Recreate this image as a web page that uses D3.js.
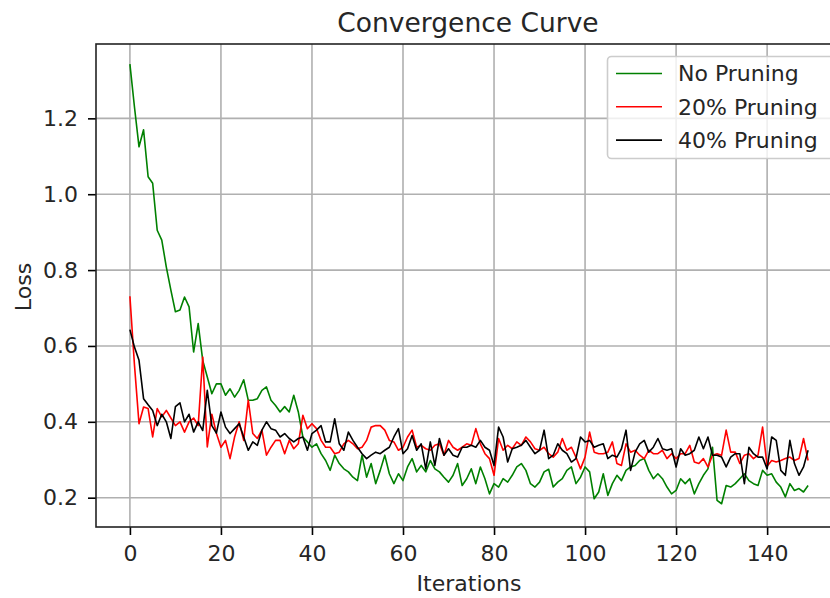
<!DOCTYPE html>
<html>
<head>
<meta charset="utf-8">
<script src="https://cdn.jsdelivr.net/npm/d3@7"></script>
<style>
  html, body { margin: 0; padding: 0; background: #fff; }
  svg { display: block; font-family: "DejaVu Sans", sans-serif; }
</style>
</head>
<body>
<svg id="chart" width="830" height="598"></svg>
<script>
// Loss per iteration for each pruning setting
const iterations = d3.range(150);

const noPruning = [
  1.343, 1.23, 1.125, 1.17, 1.046, 1.029, 0.905, 0.879, 0.808, 0.747,
  0.69, 0.695, 0.729, 0.703, 0.584, 0.659, 0.562, 0.518, 0.474, 0.50,
  0.50, 0.47, 0.487, 0.465, 0.483, 0.511, 0.457, 0.457, 0.461, 0.483,
  0.492, 0.457, 0.443, 0.426, 0.44, 0.426, 0.47, 0.426, 0.36, 0.347,
  0.333, 0.342, 0.316, 0.298, 0.272, 0.312, 0.29, 0.276, 0.268, 0.254,
  0.245, 0.312, 0.254, 0.29, 0.237, 0.272, 0.312, 0.263, 0.237, 0.263,
  0.245, 0.281, 0.303, 0.268, 0.285, 0.268, 0.298, 0.276, 0.268, 0.254,
  0.241, 0.259, 0.29, 0.232, 0.25, 0.276, 0.237, 0.281, 0.25, 0.21,
  0.237, 0.228, 0.25, 0.241, 0.259, 0.281, 0.29, 0.272, 0.237, 0.228,
  0.241, 0.268, 0.275, 0.228, 0.241, 0.25, 0.272, 0.281, 0.237, 0.254,
  0.281, 0.268, 0.197, 0.215, 0.263, 0.206, 0.237, 0.259, 0.245, 0.272,
  0.281, 0.285, 0.298, 0.303, 0.272, 0.25, 0.263, 0.25, 0.228, 0.21,
  0.219, 0.25, 0.237, 0.25, 0.21, 0.237, 0.259, 0.276, 0.333, 0.193,
  0.184, 0.232, 0.228, 0.237, 0.25, 0.263, 0.245, 0.237, 0.232, 0.272,
  0.259, 0.263, 0.241, 0.228, 0.202, 0.237, 0.219, 0.224, 0.215, 0.232
];

const pruning20 = [
  0.731, 0.55, 0.395, 0.439, 0.435, 0.36, 0.435, 0.413, 0.43, 0.41,
  0.39, 0.40, 0.373, 0.40, 0.41, 0.39, 0.571, 0.334, 0.42, 0.37,
  0.333, 0.351, 0.303, 0.36, 0.40, 0.351, 0.457, 0.369, 0.356, 0.378,
  0.312, 0.333, 0.351, 0.351, 0.316, 0.351, 0.329, 0.342, 0.417, 0.382,
  0.395, 0.382, 0.351, 0.333, 0.333, 0.316, 0.32, 0.342, 0.351, 0.342,
  0.329, 0.333, 0.351, 0.386, 0.39, 0.39, 0.378, 0.351, 0.347, 0.325,
  0.333, 0.36, 0.378, 0.333, 0.338, 0.329, 0.325, 0.338, 0.342, 0.312,
  0.351, 0.333, 0.325, 0.333, 0.342, 0.338, 0.382, 0.342, 0.316, 0.303,
  0.259, 0.356, 0.325, 0.338, 0.329, 0.347, 0.338, 0.36, 0.347, 0.329,
  0.325, 0.333, 0.316, 0.307, 0.32, 0.356, 0.325, 0.333, 0.307, 0.276,
  0.307, 0.373, 0.32, 0.316, 0.316, 0.32, 0.347, 0.29, 0.285, 0.342,
  0.32, 0.325, 0.312, 0.303, 0.325, 0.316, 0.316, 0.325, 0.303, 0.316,
  0.303, 0.316, 0.316, 0.338, 0.294, 0.29, 0.303, 0.281, 0.312, 0.316,
  0.312, 0.378, 0.32, 0.32, 0.29, 0.312, 0.316, 0.303, 0.312, 0.386,
  0.283, 0.298, 0.294, 0.298, 0.303, 0.307, 0.298, 0.303, 0.356, 0.298
];

const pruning40 = [
  0.643, 0.597, 0.562, 0.461, 0.445, 0.43, 0.39, 0.42, 0.40, 0.356,
  0.44, 0.45, 0.40, 0.42, 0.373, 0.40, 0.377, 0.483, 0.39, 0.37,
  0.426, 0.386, 0.369, 0.382, 0.395, 0.36, 0.325, 0.347, 0.338, 0.378,
  0.40, 0.382, 0.378, 0.36, 0.369, 0.356, 0.347, 0.356, 0.36, 0.325,
  0.369, 0.378, 0.39, 0.347, 0.347, 0.408, 0.342, 0.325, 0.373, 0.351,
  0.333, 0.316, 0.303, 0.312, 0.32, 0.316, 0.325, 0.333, 0.36, 0.382,
  0.316, 0.329, 0.364, 0.325, 0.342, 0.276, 0.347, 0.285, 0.356, 0.312,
  0.329, 0.312, 0.307, 0.333, 0.333, 0.338, 0.333, 0.351, 0.333, 0.325,
  0.285, 0.386, 0.36, 0.294, 0.329, 0.333, 0.338, 0.351, 0.333, 0.316,
  0.325, 0.378, 0.303, 0.312, 0.342, 0.325, 0.316, 0.294, 0.303, 0.36,
  0.347, 0.351, 0.333, 0.338, 0.342, 0.303, 0.312, 0.307, 0.329, 0.378,
  0.272, 0.32, 0.342, 0.351, 0.32, 0.333, 0.356, 0.329, 0.325, 0.329,
  0.281, 0.329, 0.312, 0.316, 0.325, 0.36, 0.329, 0.36, 0.312, 0.312,
  0.307, 0.281, 0.307, 0.316, 0.316, 0.237, 0.333, 0.316, 0.307, 0.307,
  0.276, 0.36, 0.351, 0.272, 0.259, 0.351, 0.29, 0.259, 0.281, 0.325
];

const seriesNames = ["No Pruning", "20% Pruning", "40% Pruning"];
const seriesColors = ["green", "red", "black"];
const xTicks = [0, 20, 40, 60, 80, 100, 120, 140];
const yTicks = [0.2, 0.4, 0.6, 0.8, 1.0, 1.2];

const chartTitle = "Convergence Curve";
const xLabel = "Iterations";
const yLabel = "Loss";

const series = [noPruning, pruning20, pruning40].map((values, k) => ({
  name: seriesNames[k],
  color: seriesColors[k],
  points: values.map((v, i) => [iterations[i], v])
}));

// Plot frame
const frame = { left: 96, top: 44, right: 842, bottom: 527 };

const x = d3.scaleLinear().domain([-7.45, 156.45]).range([frame.left, frame.right]);
const y = d3.scaleLinear().domain([0.1227, 1.396]).range([frame.bottom, frame.top]);

const svg = d3.select("#chart");
const fontSize = 22;
const textColor = "#262626";

// Grid
const grid = svg.append("g");
grid.selectAll(".gx").data(xTicks).join("line")
  .attr("x1", d => x(d)).attr("x2", d => x(d))
  .attr("y1", frame.top).attr("y2", frame.bottom)
  .attr("stroke", "#b0b0b0").attr("stroke-width", 1.6);
grid.selectAll(".gy").data(yTicks).join("line")
  .attr("x1", frame.left).attr("x2", frame.right)
  .attr("y1", d => y(d)).attr("y2", d => y(d))
  .attr("stroke", "#b0b0b0").attr("stroke-width", 1.6);

// Series lines
svg.append("defs").append("clipPath").attr("id", "plotclip")
  .append("rect").attr("x", frame.left).attr("y", frame.top)
  .attr("width", frame.right - frame.left).attr("height", frame.bottom - frame.top);

const line = d3.line().x(d => x(d[0])).y(d => y(d[1]));
svg.append("g").attr("clip-path", "url(#plotclip)")
  .selectAll("path").data(series).join("path")
  .attr("d", d => line(d.points))
  .attr("fill", "none")
  .attr("stroke", d => d.color)
  .attr("stroke-width", 1.6)
  .attr("stroke-linejoin", "round");

// Axes
const xAxis = d3.axisBottom(x).tickValues(xTicks).tickFormat(d3.format("d"))
  .tickSize(8).tickPadding(10);
const yAxis = d3.axisLeft(y).tickValues(yTicks).tickFormat(d3.format(".1f"))
  .tickSize(8).tickPadding(10);

const gx = svg.append("g").attr("transform", `translate(0,${frame.bottom})`).call(xAxis);
const gy = svg.append("g").attr("transform", `translate(${frame.left},0)`).call(yAxis);
[gx, gy].forEach(g => {
  g.select(".domain").remove();
  g.selectAll(".tick line").attr("stroke", "#000").attr("stroke-width", 1.6);
  g.selectAll(".tick text").attr("font-size", fontSize)
    .attr("font-family", "DejaVu Sans").attr("fill", textColor);
});

// Spines
svg.append("rect")
  .attr("x", frame.left).attr("y", frame.top)
  .attr("width", frame.right - frame.left).attr("height", frame.bottom - frame.top)
  .attr("fill", "none").attr("stroke", "#222").attr("stroke-width", 1.6);

// Title and axis labels
const midX = (frame.left + frame.right) / 2;
svg.append("text").attr("x", midX - 1).attr("y", 32)
  .attr("text-anchor", "middle").attr("font-size", 26.5).attr("fill", textColor)
  .text(chartTitle);
svg.append("text").attr("x", midX).attr("y", 591)
  .attr("text-anchor", "middle").attr("font-size", fontSize).attr("fill", textColor)
  .text(xLabel);
svg.append("text")
  .attr("transform", `translate(31,287) rotate(-90)`)
  .attr("text-anchor", "middle").attr("font-size", fontSize).attr("fill", textColor)
  .text(yLabel);

// Legend
const legend = svg.append("g");
legend.append("rect")
  .attr("x", 607.5).attr("y", 56.5).attr("width", 240).attr("height", 102)
  .attr("rx", 4).attr("fill", "#fff").attr("fill-opacity", 0.8)
  .attr("stroke", "#cccccc").attr("stroke-width", 1.6);
const rows = legend.selectAll(".row").data(series).join("g")
  .attr("transform", (d, i) => `translate(0,${73.5 + i * 33.3})`);
rows.append("line").attr("x1", 616).attr("x2", 662)
  .attr("stroke", d => d.color).attr("stroke-width", 1.6);
rows.append("text").attr("x", 678).attr("dy", "0.36em")
  .attr("font-size", fontSize).attr("fill", textColor)
  .text(d => d.name);
</script>
</body>
</html>
